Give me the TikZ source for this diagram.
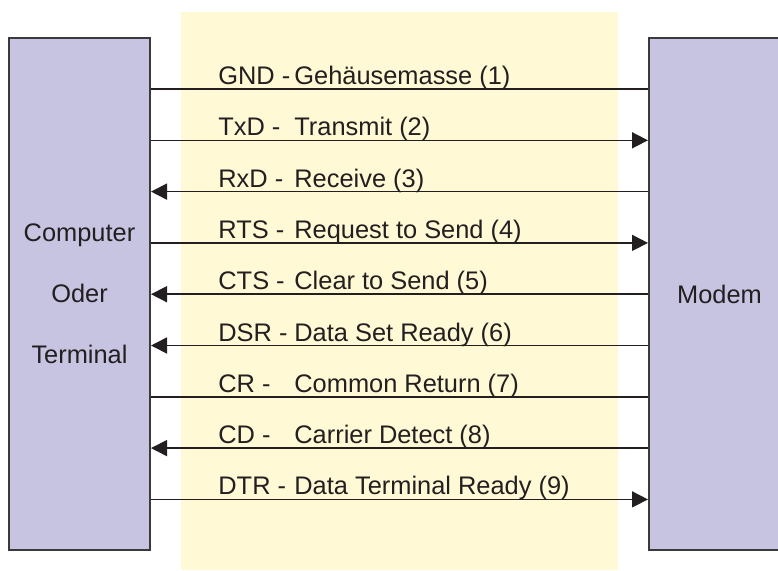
\documentclass[tikz,border=0pt]{standalone}
\usepackage{fontspec}
\setmainfont{Liberation Sans}
\usetikzlibrary{arrows.meta}
\definecolor{fg}{RGB}{35,31,32}
\definecolor{rahmen}{RGB}{58,58,60}
\definecolor{lila}{RGB}{199,196,226}
\definecolor{gelb}{RGB}{255,249,214}
\tikzset{
  every picture/.style={fg, x=0.5pt, y=-0.5pt, line cap=butt,
    >={Triangle[length=8pt,width=8pt]}},
  every node/.style={font=\fontsize{12.7}{15}\selectfont, text=fg},
  % Kästen
  geraet/.style={draw=rahmen, fill=lila, line width=1pt, inner sep=0pt,
    minimum width=70.5pt, minimum height=256pt, align=center},
  % Leitungen
  ltg/.style={line width=0.8pt},
  % Beschriftung auf der Leitung
  lbl/.style={anchor=base west, inner sep=0pt},
}
\begin{document}
\begin{tikzpicture}
  \useasboundingbox (0,0) rectangle (778,570);
  % Hintergrund
  \fill[gelb] (181,12) rectangle (618,570);
  % Geräte
  \node[geraet, font=\fontsize{12.7}{30.5}\selectfont] (term) at (79.5,294) {Computer\\Oder\\Terminal};
  \node[geraet] (modem) at (719.5,294) {Modem};
  % Signalleitungen mit Richtung
  \foreach \i/\kurz/\lang/\pfeil in {
      1/GND -/Gehäusemasse (1)/-,
      2/TxD -/Transmit (2)/->,
      3/RxD -/Receive (3)/<-,
      4/RTS -/Request to Send (4)/->,
      5/CTS -/Clear to Send (5)/<-,
      6/DSR -/Data Set Ready (6)/<-,
      7/CR -/Common Return (7)/-,
      8/CD -/Carrier Detect (8)/<-,
      9/DTR -/Data Terminal Ready (9)/->} {
    \coordinate (r\i) at (0,{89+51.3*(\i-1)});
    \draw[ltg, \pfeil] (term.east |- r\i) -- (modem.west |- r\i);
    \node[lbl] (k\i) at (218,{84.5+51.3*(\i-1)}) {\kurz};
    \node[lbl] (t\i) at (294,{84.5+51.3*(\i-1)}) {\lang};
  }
\end{tikzpicture}
\end{document}
